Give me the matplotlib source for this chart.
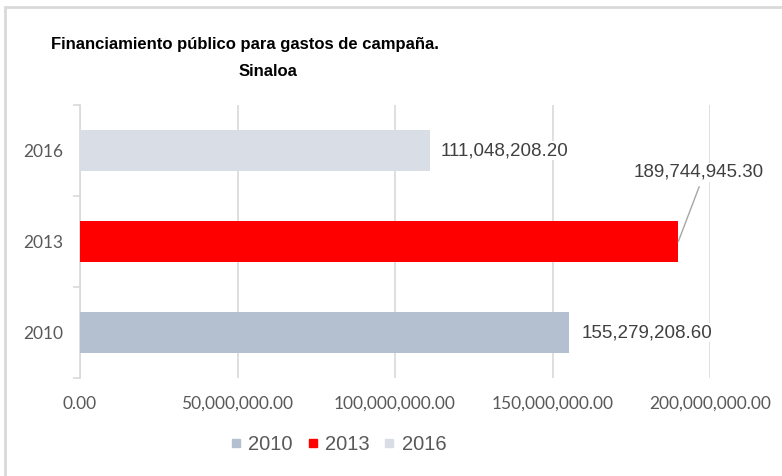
import numpy as np
import matplotlib.pyplot as plt
from matplotlib.patches import Rectangle
from matplotlib.lines import Line2D
from matplotlib.ticker import FuncFormatter

# datos
anios = ["2010", "2013", "2016"]
montos = [155279208.60, 189744945.30, 111048208.20]
colores = ["#b4bfcf", "#ff0000", "#d9dee6"]
ticks_x = [0, 50000000, 100000000, 150000000, 200000000]

fig = plt.figure(figsize=(7.82, 4.76), dpi=100)
ax = fig.add_axes([80 / 782, 1 - 378 / 476, 630 / 782, 273 / 476])

# marco del grafico
fig.patches.append(Rectangle((5 / 782, -0.05), 1.1, 1 - 7 / 476 + 0.05,
                             transform=fig.transFigure, fill=False,
                             edgecolor="#d9d9d9", lw=2))

y = np.arange(len(anios))
ax.barh(y, montos, height=0.46, color=colores, zorder=3)

ax.set_xlim(0, 200000000)
ax.set_ylim(-0.5, 2.5)
ax.set_xticks(ticks_x)
ax.xaxis.set_major_formatter(FuncFormatter(lambda v, p: f"{v:,.2f}"))
ax.grid(axis="x", color="#d9d9d9", lw=1.2, zorder=0)
ax.tick_params(axis="x", length=0, pad=13, labelsize=12.5, labelcolor="#595959")
for lbl in ax.get_xticklabels():
    lbl.set_family("Lato")

ax.set_yticks(y)
ax.set_yticklabels(anios, family="Lato", fontsize=12.5, color="#595959")
ax.set_yticks([-0.5, 0.5, 1.5, 2.5], minor=True)
ax.tick_params(axis="y", which="major", length=0, pad=12)
ax.tick_params(axis="y", which="minor", length=5, color="#d9d9d9", width=1.2)

for s in ["top", "right", "bottom"]:
    ax.spines[s].set_visible(False)
ax.spines["left"].set_color("#d9d9d9")
ax.spines["left"].set_linewidth(1.2)

# etiquetas de valor
lab = dict(fontsize=13.5, color="#404040", family="Liberation Sans",
           va="center", zorder=5,
           bbox=dict(facecolor="white", edgecolor="none", pad=1))
ax.text(montos[0] + 4000000, 0, f"{montos[0]:,.2f}", ha="left", **lab)
ax.text(montos[2] + 3500000, 2, f"{montos[2]:,.2f}", ha="left", **lab)
ax.text(montos[1] + 6800000, 1.76, f"{montos[1]:,.2f}", ha="center", **lab)
ax.plot([montos[1] + 200000, montos[1] + 6800000], [1.0, 1.6],
        color="#a6a6a6", lw=1, zorder=4, clip_on=False)

titulo = dict(ha="center", va="center", fontsize=12, fontweight="bold",
              family="Liberation Sans")
fig.text(245 / 782, 1 - 45 / 476, "Financiamiento público para gastos de campaña.", **titulo)
fig.text(268 / 782, 1 - 71 / 476, "Sinaloa", **titulo)

handles = [Line2D([], [], marker="s", ls="", color=c, markersize=6) for c in colores]
leg = fig.legend(handles, anios, loc="center", bbox_to_anchor=(337 / 782, 1 - 445 / 476),
                 ncol=3, frameon=False, handlelength=0.8, handletextpad=0.2,
                 columnspacing=0.6, prop=dict(family="Liberation Sans", size=14.5))
for t in leg.get_texts():
    t.set_color("#595959")

fig.savefig("out.png", dpi=100)
